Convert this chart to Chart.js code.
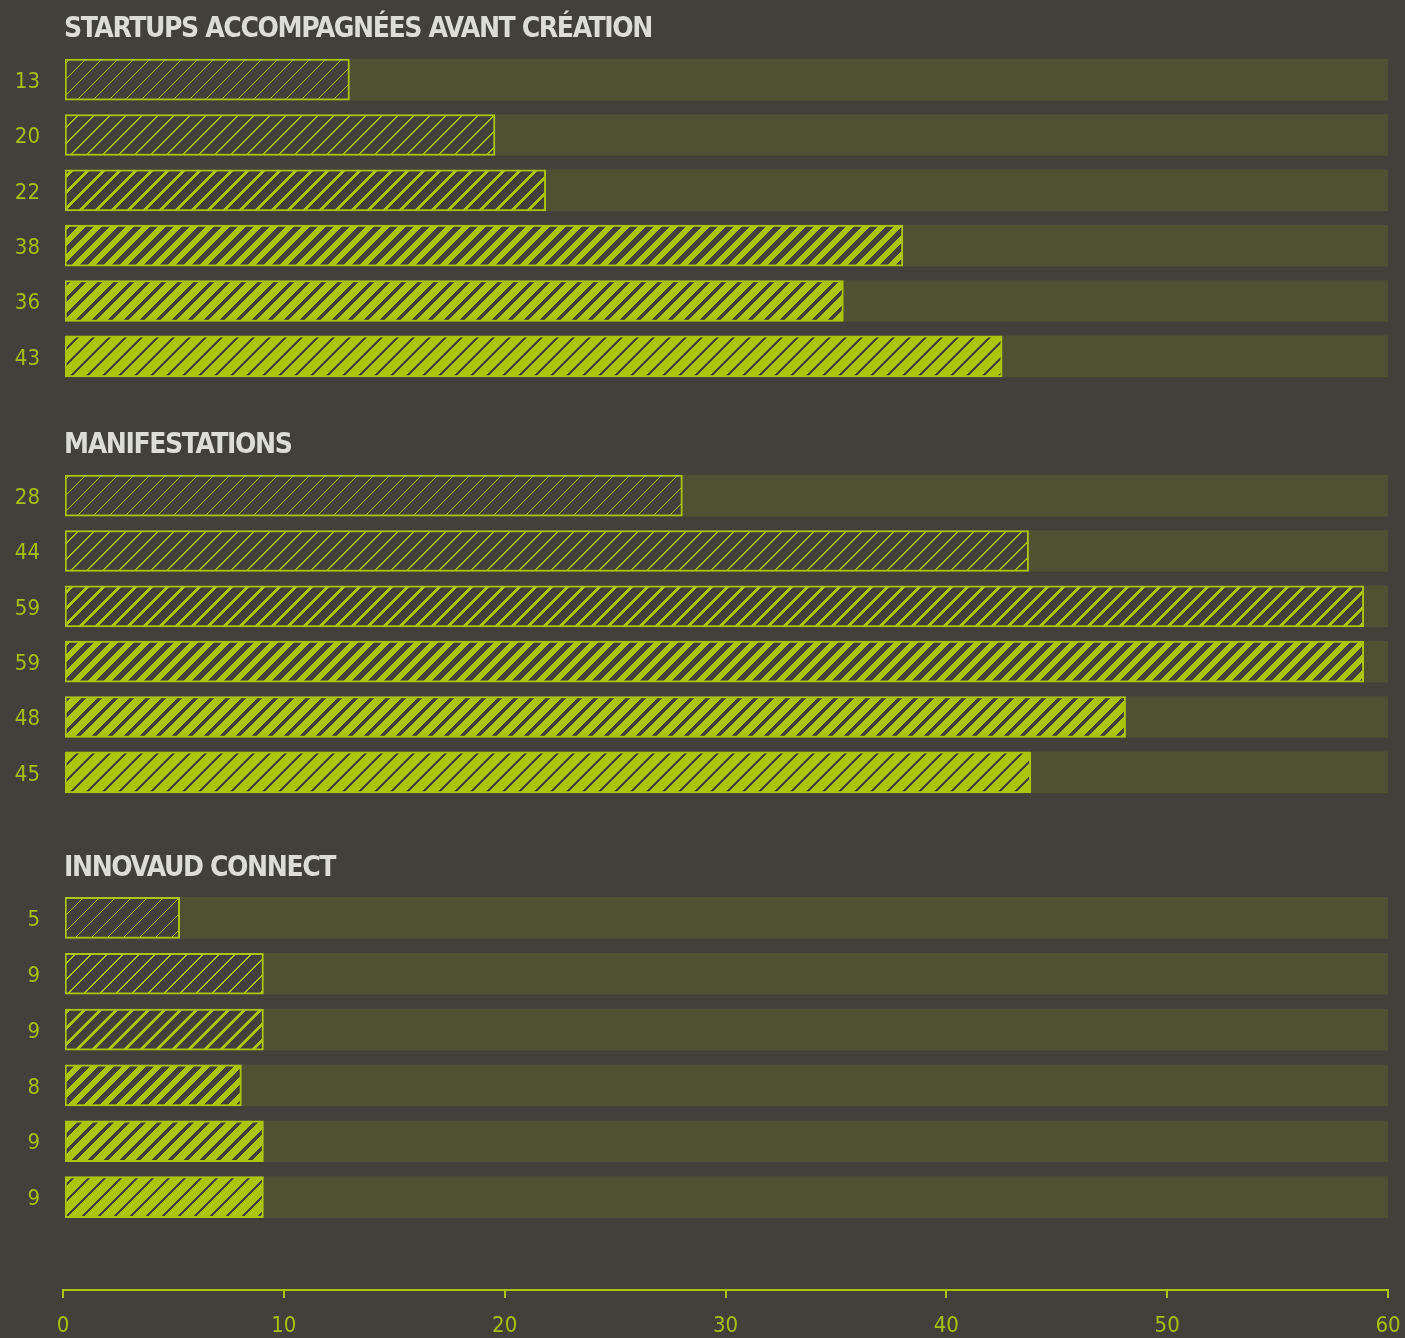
<!DOCTYPE html>
<html><head><meta charset="utf-8">
<script src="https://cdn.jsdelivr.net/npm/chart.js@4.4.0/dist/chart.umd.min.js"></script>
<style>
html,body{margin:0;padding:0;background:#41403a;}
body{width:1405px;height:1338px;position:relative;overflow:hidden;}
canvas{position:absolute;left:0;display:block;}
</style></head><body>
<canvas id="c1" width="1405" height="400" style="top:0px"></canvas>
<canvas id="c2" width="1405" height="420" style="top:400px"></canvas>
<canvas id="c3" width="1405" height="420" style="top:820px"></canvas>
<canvas id="c4" width="1405" height="98" style="top:1240px"></canvas>
<script>
// ---- data ----
const sectionTitles = ['STARTUPS ACCOMPAGNÉES AVANT CRÉATION', 'MANIFESTATIONS', 'INNOVAUD CONNECT'];
const startupsLabels = ['13', '20', '22', '38', '36', '43'];
const startupsValues = [12.9, 19.5, 21.8, 38, 35.3, 42.5];
const manifLabels = ['28', '44', '59', '59', '48', '45'];
const manifValues = [28, 43.7, 58.9, 58.9, 48.1, 43.8];
const connectLabels = ['5', '9', '9', '8', '9', '9'];
const connectValues = [5.2, 9, 9, 8, 9, 9];
const scaleMax = 60;
const axisTickValues = [0, 10, 20, 30, 40, 50, 60];

// ---- styles ----
const BG = [0x41, 0x40, 0x3a], YELRGB = [0xaa, 0xc5, 0x0b];
const TRACK = '#4e5232', YEL = '#aac50b', TITLE = '#dcdcd8', TICKCOL = '#a6c00f';
const TICK_FONT = {family: '"DejaVu Sans Condensed", "Liberation Sans Narrow", Roboto, sans-serif', size: 22, weight: 'normal'};
const TITLE_FONT = 'bold 28px "DejaVu Sans Condensed", "Liberation Sans Narrow", Roboto, sans-serif';
const hatchWidths = [1, 2, 4, 8, 11, 13]; // yellow stripe width (horizontal px) per 16px period
const PERIOD = 16;

function makeHatch(w) {
  const t = document.createElement('canvas');
  t.width = PERIOD; t.height = PERIOD;
  const g = t.getContext('2d');
  const img = g.createImageData(PERIOD, PERIOD);
  for (let y = 0; y < PERIOD; y++) {
    for (let x = 0; x < PERIOD; x++) {
      const on = ((x + y) % PERIOD) < w;
      const c = on ? YELRGB : BG;
      const i = (y * PERIOD + x) * 4;
      img.data[i] = c[0]; img.data[i + 1] = c[1]; img.data[i + 2] = c[2]; img.data[i + 3] = 255;
    }
  }
  g.putImageData(img, 0, 0);
  return document.getElementById('c1').getContext('2d').createPattern(t, 'repeat');
}
const patterns = hatchWidths.map(makeHatch);

Chart.defaults.animation = false;

const titlePlugin = {
  id: 'sectionTitle',
  afterDraw(chart, args, opts) {
    const ctx = chart.ctx;
    ctx.save();
    ctx.font = TITLE_FONT;
    ctx.fillStyle = TITLE;
    ctx.textBaseline = 'alphabetic';
    ctx.letterSpacing = '-1.4px';
    ctx.fillText(opts.text, chart.chartArea.left - 1, opts.baseline);
    ctx.restore();
  }
};

function makeSection(id, title, labels, values, padTop, padBottom, baseline) {
  return new Chart(document.getElementById(id), {
    type: 'bar',
    data: {
      labels: labels,
      datasets: [
        {data: values, backgroundColor: patterns, borderColor: YEL, borderWidth: 2,
         borderSkipped: false, barThickness: 41, grouped: false, order: 1},
        {data: labels.map(() => scaleMax), backgroundColor: TRACK, borderWidth: 0,
         barThickness: 41, grouped: false, order: 2}
      ]
    },
    options: {
      responsive: false, indexAxis: 'y',
      layout: {padding: {top: padTop, bottom: padBottom, left: 0, right: 17}},
      scales: {
        x: {display: false, min: 0, max: scaleMax},
        y: {
          grid: {display: false, drawTicks: false}, border: {display: false},
          ticks: {color: TICKCOL, font: TICK_FONT, padding: 25, autoSkip: false, labelOffset: 2.5},
          afterFit(s) { s.width = 65; s.paddingTop = 0; s.paddingBottom = 0; }
        }
      },
      plugins: {legend: {display: false}, tooltip: {enabled: false},
        sectionTitle: {text: title, baseline: baseline}}
    },
    plugins: [titlePlugin]
  });
}

makeSection('c1', sectionTitles[0], startupsLabels, startupsValues, 52, 16, 37);
makeSection('c2', sectionTitles[1], manifLabels, manifValues, 68, 20, 53);
makeSection('c3', sectionTitles[2], connectLabels, connectValues, 70, 15, 56);

// bottom value axis
new Chart(document.getElementById('c4'), {
  type: 'bar',
  data: {labels: [''], datasets: [{data: [0]}]},
  options: {
    responsive: false, indexAxis: 'y',
    layout: {padding: {left: 63, right: 17, top: 0, bottom: 0}},
    scales: {
      y: {display: false},
      x: {
        min: 0, max: scaleMax,
        afterBuildTicks(s) { s.ticks = axisTickValues.map(v => ({value: v})); },
        grid: {drawOnChartArea: false, drawTicks: true, tickLength: 8, color: YEL, lineWidth: 2},
        border: {display: true, color: YEL, width: 2},
        ticks: {color: TICKCOL, font: TICK_FONT, padding: 15, maxRotation: 0, autoSkip: false},
        afterFit(s) { s.height = 48; s.paddingLeft = 0; s.paddingRight = 0; }
      }
    },
    plugins: {legend: {display: false}, tooltip: {enabled: false}}
  }
});
</script>
</body></html>
